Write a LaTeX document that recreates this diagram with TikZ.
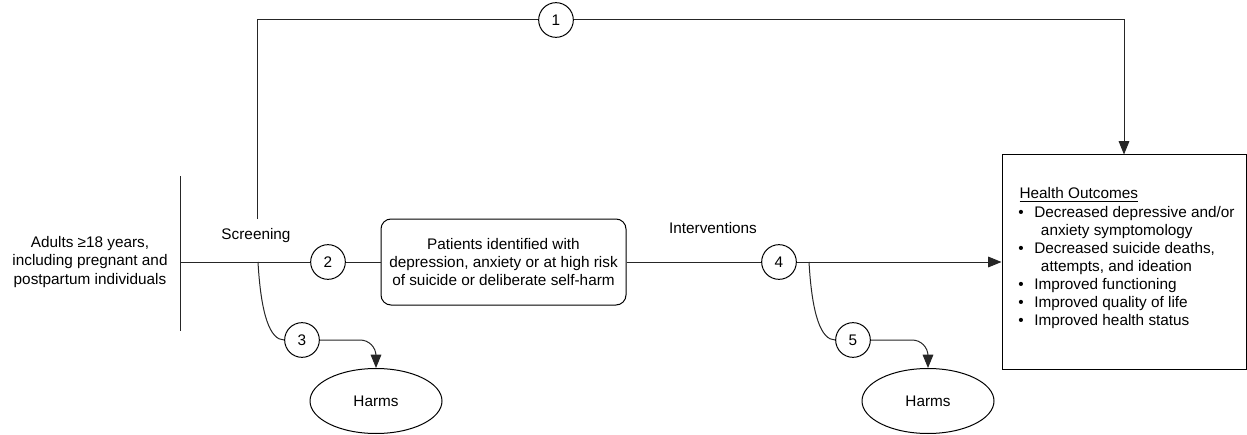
\documentclass[tikz,border=0pt]{standalone}
\usepackage{fontspec}
\setmainfont{Liberation Sans}
\usetikzlibrary{arrows.meta,shapes.geometric}
\begin{document}
\begin{tikzpicture}[x=0.75pt,y=-0.75pt,
  every node/.style={font=\fontsize{11.5}{13.6}\selectfont},
  ln/.style={line width=0.75pt,black!85},
  arr/.style={ln,-{Triangle[length=10pt,width=8pt]}},
  kq/.style={circle,draw,line width=0.75pt,minimum size=26pt,inner sep=0pt},
  harm/.style={ellipse,draw,line width=0.75pt,minimum width=99pt,minimum height=48.75pt,inner sep=0pt},
  lbl/.style={align=center,inner sep=0pt}]
\useasboundingbox (0,0) rectangle (1247,435);

% population
\node[lbl] (pop) at (90,262) {Adults ≥18 years,\\including pregnant and\\postpartum individuals};
\coordinate (bartop) at (180,176);
\coordinate (barbot) at (180,331);
\coordinate (bar) at (180,262);
\draw[ln] (bartop) -- (barbot);

\node[lbl] (scr) at (256,236) {Screening};
\node[lbl] (int) at (713,228) {Interventions};

% key question circles
\node[kq] (c1) at (556,20) {1};
\node[kq] (c2) at (328,262) {2};
\node[kq] (c3) at (302,340) {3};
\node[kq] (c4) at (779,262) {4};
\node[kq] (c5) at (853,340) {5};

% boxes
\node[draw,line width=0.75pt,rounded corners=7.5pt,minimum width=183.75pt,minimum height=64.5pt,align=center,inner sep=0pt] (pat) at (503.5,262)
  {Patients identified with\\depression, anxiety or at high risk\\of suicide or deliberate self-harm};
\node[draw,line width=0.75pt,minimum width=183pt,minimum height=160.5pt,inner sep=0pt] (ho) at (1124,262) {};
\node[anchor=north west,inner sep=0pt] (hotext) at (1018,186) {%
  \begin{tabular}{@{}l@{\hspace{8pt}}l@{}}
  \multicolumn{2}{@{}l@{}}{\hspace{1pt}\underline{Health Outcomes}}\\
  \textbullet & Decreased depressive and/or\\
   & \hspace{5pt}anxiety symptomology\\
  \textbullet & Decreased suicide deaths,\\
   & \hspace{5pt}attempts, and ideation\\
  \textbullet & Improved functioning\\
  \textbullet & Improved quality of life\\
  \textbullet & Improved health status
  \end{tabular}};

% harms
\node[harm] (h3) at (376,401) {Harms};
\node[harm] (h5) at (928,401) {Harms};

% connectors
\coordinate (s1) at (257,219);
\coordinate (b3) at (258,262);
\coordinate (b5) at (809,262);
\draw[ln] (s1) |- (c1.west);
\draw[arr] (c1.east) -| (ho.north);
\draw[ln] (bar) -- (c2.west);
\draw[ln] (c2.east) -- (pat.west);
\draw[ln] (pat.east) -- (c4.west);
\draw[arr] (c4.east) -- (ho.west);
\draw[ln] (b3) .. controls (261,315) and (270,340) .. (c3.west);
\draw[arr,rounded corners=12pt] (c3.east) -| (h3.north);
\draw[ln] (b5) .. controls (812,315) and (821,340) .. (c5.west);
\draw[arr,rounded corners=12pt] (c5.east) -| (h5.north);
\end{tikzpicture}
\end{document}
